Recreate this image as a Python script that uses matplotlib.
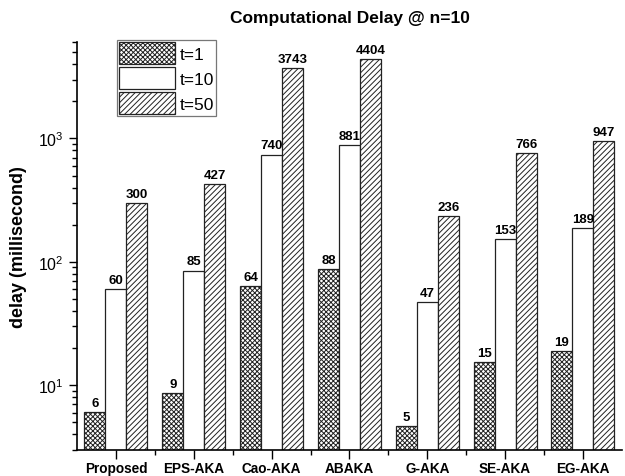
import matplotlib
matplotlib.use("Agg")
import matplotlib.pyplot as plt
import numpy as np
from matplotlib.ticker import LogLocator, NullFormatter, FixedLocator

plt.rcParams['font.family'] = ['Liberation Sans', 'DejaVu Sans']
plt.rcParams['hatch.linewidth'] = 0.7

categories = ["Proposed", "EPS-AKA", "Cao-AKA", "ABAKA", "G-AKA", "SE-AKA", "EG-AKA"]
series_names = ["t=1", "t=10", "t=50"]
t1 = [6.1, 8.6, 64, 88, 4.7, 15.4, 19]
t10 = [60, 85, 740, 881, 47, 153, 189]
t50 = [300, 427, 3743, 4404, 236, 766, 947]

fig = plt.figure(figsize=(6.25, 4.77), dpi=100)
ax = fig.add_axes([0.1232, 0.055, 0.8718, 0.854])

x = np.arange(len(categories))
w = 0.27
hatches = ["xxxxxxx", "", "//////"]
series = [t1, t10, t50]
for i, (vals, name, h) in enumerate(zip(series, series_names, hatches)):
    ax.bar(x + (i - 1) * w, vals, w, facecolor="white", edgecolor="#222222",
           hatch=h, linewidth=0.9, label=name, zorder=2)
    for xi, v in zip(x + (i - 1) * w, vals):
        ax.text(xi, v * 1.06, f"{int(round(v))}", ha="center", va="bottom",
                fontsize=9.5, fontweight="bold")

ax.set_yscale("log")
ax.set_ylim(3, 6000)
ax.set_xlim(-0.5, len(categories) - 0.5)

ax.set_xticks(x)
ax.set_xticklabels(categories, fontsize=9.8, fontweight="bold")
ax.xaxis.set_minor_locator(FixedLocator(x[:-1] + 0.5))
ax.tick_params(axis="x", which="major", length=6.5, width=1, direction="out", pad=1.5)
ax.tick_params(axis="x", which="minor", length=3.6, width=1, direction="out")

ax.yaxis.set_major_locator(LogLocator(base=10, numticks=10))
ax.yaxis.set_minor_locator(LogLocator(base=10, subs=np.arange(2, 10), numticks=20))
ax.yaxis.set_minor_formatter(NullFormatter())
ax.tick_params(axis="y", which="major", length=6, width=1, direction="out", labelsize=11.5)
ax.tick_params(axis="y", which="minor", length=3.5, width=1, direction="out")

for s in ["top", "right"]:
    ax.spines[s].set_visible(False)
for s in ["left", "bottom"]:
    ax.spines[s].set_linewidth(1.2)

ax.set_ylabel("delay (millisecond)", fontsize=13, fontweight="bold", labelpad=8)
fig.text(0.56, 0.962, "Computational Delay @ n=10", ha="center", va="center",
         fontsize=12.5, fontweight="bold")

leg = ax.legend(loc="upper left", bbox_to_anchor=(117 / 625, 1 - 41 / 477),
                bbox_transform=fig.transFigure, fancybox=False, frameon=True,
                edgecolor="#555555", fontsize=12.5, handlelength=3.2, handleheight=1.6,
                labelspacing=0.15, borderpad=0.12, handletextpad=0.3, borderaxespad=0)
leg.get_frame().set_linewidth(0.9)

fig.savefig("out.png", dpi=100)
